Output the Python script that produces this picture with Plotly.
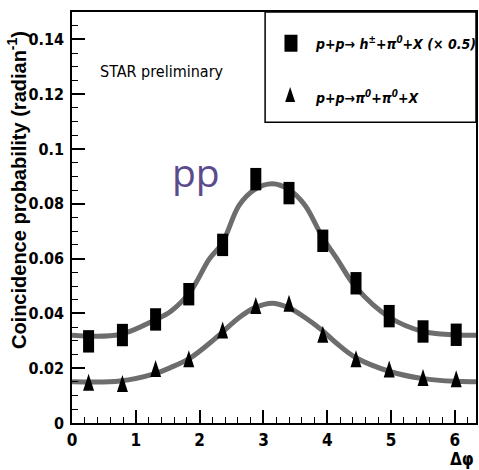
import plotly.graph_objects as go

# ---- data ----
dphi = [0.26, 0.79, 1.31, 1.83, 2.36, 2.88, 3.40, 3.93, 4.45, 4.97, 5.50, 6.02]
h_pi0_scaled = [0.0298, 0.0321, 0.0378, 0.0470, 0.0650, 0.0890, 0.0839, 0.0665, 0.0510, 0.0390, 0.0334, 0.0322]
pi0_pi0 = [0.0140, 0.0135, 0.0190, 0.0225, 0.0330, 0.0420, 0.0428, 0.0315, 0.0225, 0.0188, 0.0157, 0.0152]

fit_x = [0.0, 0.75, 1.30, 1.55, 1.85, 2.15, 2.35, 2.62, 2.86, 3.14, 3.40, 3.65, 3.92, 4.15, 4.45, 4.98, 5.50, 6.00, 6.33]
fit_h = [0.0320, 0.0323, 0.0376, 0.0408, 0.0478, 0.0598, 0.0655, 0.0795, 0.0852, 0.0873, 0.0852, 0.0795, 0.0680, 0.0600, 0.0495, 0.0385, 0.0334, 0.0322, 0.0320]
fit_p = [0.0151, 0.0153, 0.0180, 0.0203, 0.0237, 0.0290, 0.0330, 0.0385, 0.0420, 0.0437, 0.0420, 0.0385, 0.0338, 0.0290, 0.0238, 0.0188, 0.0162, 0.0152, 0.0151]

y_ticks = [0, 0.02, 0.04, 0.06, 0.08, 0.1, 0.12, 0.14]
y_labels = ["0", "0.02", "0.04", "0.06", "0.08", "0.1", "0.12", "0.14"]
x_ticks = [0, 1, 2, 3, 4, 5, 6]

legend_h = "<i>p+p\u2192 h<sup>\u00b1</sup>+\u03c0<sup>0</sup>+X (\u00d7 0.5)</i>"
legend_p = "<i>p+p\u2192\u03c0<sup>0</sup>+\u03c0<sup>0</sup>+X</i>"

NARROW = "DejaVu Sans Condensed, Liberation Sans Narrow, Liberation Sans, sans-serif"
FIT_COLOR = "#6d6d6d"

fig = go.Figure()

fig.add_trace(go.Scatter(x=fit_x, y=fit_h, mode="lines", line=dict(color=FIT_COLOR, width=5, shape="spline", smoothing=1.0),
                         showlegend=False, hoverinfo="skip"))
fig.add_trace(go.Scatter(x=fit_x, y=fit_p, mode="lines", line=dict(color=FIT_COLOR, width=5, shape="spline", smoothing=1.0),
                         showlegend=False, hoverinfo="skip"))

# squares (tall rectangles like the reference) drawn as thick vertical line markers
fig.add_trace(go.Scatter(x=dphi, y=h_pi0_scaled, mode="markers", name="h+pi0 (x0.5)",
                         marker=dict(symbol="line-ns", size=16, color="black", line=dict(width=11, color="black")),
                         showlegend=False))

# triangles: narrow tall triangles anchored at data points
for xv, yv in zip(dphi, pi0_pi0):
    fig.add_shape(type="path", xref="x", yref="y", xsizemode="pixel", ysizemode="pixel",
                  xanchor=xv, yanchor=yv, path="M-5.5,-6 L5.5,-6 L0,11 Z",
                  fillcolor="black", line=dict(width=0), layer="above")

# legend box
fig.add_shape(type="rect", xref="paper", yref="paper", x0=0.478, x1=1.0, y0=0.732, y1=1.0,
              line=dict(color="black", width=1.5), fillcolor="white", layer="above")
fig.add_shape(type="path", xref="paper", yref="paper", xsizemode="pixel", ysizemode="pixel",
              xanchor=0.542, yanchor=0.924, path="M-6.5,-8.5 L6.5,-8.5 L6.5,8.5 L-6.5,8.5 Z",
              fillcolor="black", line=dict(width=0), layer="above")
fig.add_shape(type="path", xref="paper", yref="paper", xsizemode="pixel", ysizemode="pixel",
              xanchor=0.540, yanchor=0.793, path="M-5,-5 L5,-5 L0,10 Z",
              fillcolor="black", line=dict(width=0), layer="above")

annotations = [
    dict(x=0.597, y=0.924, xref="paper", yref="paper", text=legend_h, showarrow=False, xanchor="left", yanchor="middle",
         font=dict(family=NARROW, size=14, color="black", weight="bold")),
    dict(x=0.597, y=0.793, xref="paper", yref="paper", text=legend_p, showarrow=False, xanchor="left", yanchor="middle",
         font=dict(family=NARROW, size=14, color="black", weight="bold")),
    dict(x=0.064, y=0.856, xref="paper", yref="paper", text="STAR preliminary", showarrow=False, xanchor="left", yanchor="middle",
         font=dict(family=NARROW, size=16, color="black")),
    dict(x=0.308, y=0.612, xref="paper", yref="paper", text="pp", showarrow=False, xanchor="center", yanchor="middle",
         font=dict(family="Open Sans, Lato, sans-serif", size=39, color="#5b4b8b")),
    dict(x=-0.100, y=0.567, xref="paper", yref="paper", text="Coincidence probability (radian<sup>-1</sup>)", showarrow=False,
         textangle=-90, xanchor="right", yanchor="middle",
         font=dict(family="Liberation Sans, Arial, sans-serif", size=20, color="black", weight="bold")),
    dict(x=1.0, y=-0.088, xref="paper", yref="paper", text="\u0394\u03c6", showarrow=False, xanchor="right", yanchor="middle",
         font=dict(family=NARROW, size=17, color="black", weight="bold")),
]

fig.update_layout(
    width=479, height=470,
    margin=dict(l=72, r=1, t=12, b=47),
    paper_bgcolor="white", plot_bgcolor="white",
    showlegend=False,
    annotations=annotations,
    xaxis=dict(range=[0, 6.33], tickvals=x_ticks, ticks="inside", ticklen=13, tickwidth=1.5, tickcolor="black",
               showline=True, linecolor="black", linewidth=1.5, mirror=True, showgrid=False, zeroline=False,
               minor=dict(ticks="inside", ticklen=6, tickwidth=1.2, tickcolor="black", dtick=0.2, tick0=0),
               tickfont=dict(family=NARROW, size=17, color="black", weight="bold"), ticklabelstandoff=1),
    yaxis=dict(range=[0, 0.15], tickvals=y_ticks, ticktext=y_labels, ticks="inside", ticklen=13, tickwidth=1.5, tickcolor="black",
               showline=True, linecolor="black", linewidth=1.5, mirror=True, showgrid=False, zeroline=False,
               minor=dict(ticks="inside", ticklen=6, tickwidth=1.2, tickcolor="black", dtick=0.005, tick0=0),
               tickfont=dict(family=NARROW, size=16, color="black", weight="bold"), ticklabelstandoff=3),
)

fig.write_html("out.html")
